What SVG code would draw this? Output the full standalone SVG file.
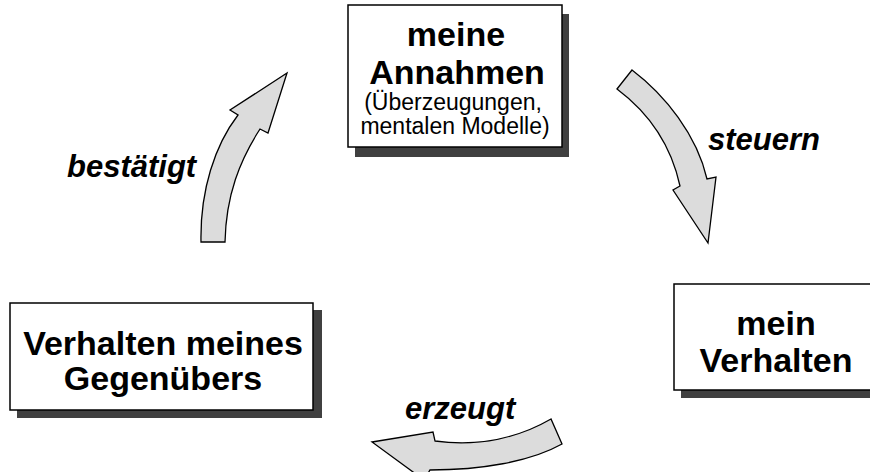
<svg xmlns="http://www.w3.org/2000/svg" width="870" height="472" viewBox="0 0 870 472">
<style>
.box{fill:#fff;stroke:#000;stroke-width:1.5}
.shadow{fill:#404040}
.bt{font-family:"Liberation Sans",Arial,sans-serif;font-weight:bold;font-size:34px;text-anchor:middle;fill:#000}
.st{font-family:"Liberation Sans",Arial,sans-serif;font-size:23px;text-anchor:middle;fill:#000}
.lbl{font-family:"Liberation Sans",Arial,sans-serif;font-weight:bold;font-style:italic;font-size:31px;fill:#000}
.arrow{fill:#dcdcdc;stroke:#000;stroke-width:1.3;stroke-linejoin:miter}
</style>
<rect width="870" height="472" fill="#fff"/>
<g id="annahmen">
<rect class="shadow" x="355" y="14" width="214" height="143"/>
<rect class="box" x="348" y="5" width="214" height="142"/>
<text class="bt" x="456" y="46">meine</text>
<text class="bt" x="457" y="84">Annahmen</text>
<text class="st" x="453" y="110">(Überzeugungen,</text>
<text class="st" x="455" y="134">mentalen Modelle)</text>
</g>
<g id="mein-verhalten">
<rect class="shadow" x="681" y="292" width="200" height="106"/>
<rect class="box" x="674" y="284" width="200" height="106"/>
<text class="bt" x="776" y="335">mein</text>
<text class="bt" x="776" y="372">Verhalten</text>
</g>
<g id="gegenueber">
<rect class="shadow" x="17" y="310" width="305" height="108"/>
<rect class="box" x="10" y="303" width="303" height="107"/>
<text class="bt" x="163" y="355">Verhalten meines</text>
<text class="bt" x="163" y="390">Gegenübers</text>
</g>
<g id="connectors">
<path class="arrow" d="M632,70 C665,95 697,135 707,179 L716,177 L708,243 L673,190 L680,186 C670,140 645,110 617,89 Z"/>
<text class="lbl" x="708" y="150">steuern</text>
<path class="arrow" d="M372,442 L433,432 L435,441 C480,447 520,437 551,419 L562,444 C530,462 480,470 430,470 L424,480 Z"/>
<text class="lbl" x="405" y="419">erzeugt</text>
<path class="arrow" d="M201,242 C200,190 215,145 238,115 L230,110 L287,73 L268,133 L260,129 C240,160 226,195 225,242 Z"/>
<text class="lbl" x="67" y="177">bestätigt</text>
</g>
</svg>
